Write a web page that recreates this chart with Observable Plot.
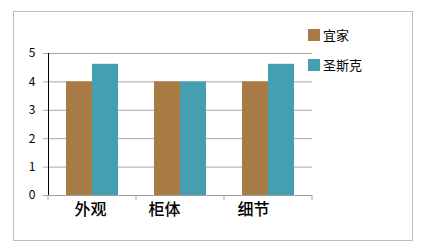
<!DOCTYPE html>
<html><head><meta charset="utf-8">
<script src="https://cdn.jsdelivr.net/npm/d3@7"></script>
<script src="https://cdn.jsdelivr.net/npm/@observablehq/plot@0.6"></script>
<style>
body{margin:0;background:#fff;font-family:"Noto Sans CJK SC",sans-serif;}
#wrap{position:relative;width:425px;height:252px;}
#border{position:absolute;left:13px;top:11px;width:400px;height:230px;box-sizing:border-box;border:1px solid #bcbcbc;}
#chart{position:absolute;left:0;top:0;}
.lg{position:absolute;left:308px;display:flex;align-items:center;font-size:13px;color:#000;line-height:14px;}
.lg span.sw{display:inline-block;width:12px;height:12px;margin-right:3px;}
</style></head>
<body><div id="wrap"><div id="border"></div><div id="chart"></div><div id="legend"></div></div>
<script>
const categories = ["外观", "柜体", "细节"];
const seriesNames = ["宜家", "圣斯克"];
const valuesYijia = [4, 4, 4];
const valuesShengsike = [4.62, 4, 4.62];
const colors = ["#a87b44", "#449fb0"];
const yTicks = [0, 1, 2, 3, 4, 5];
const labelShift = [-2, -16, -15];

const data = [];
categories.forEach((c, i) => {
  data.push({cat: c, series: seriesNames[0], value: valuesYijia[i]});
  data.push({cat: c, series: seriesNames[1], value: valuesShengsike[i]});
});

const chart = Plot.plot({
  width: 425, height: 252,
  marginLeft: 47, marginRight: 113, marginTop: 53, marginBottom: 57,
  style: {fontFamily: "'Noto Sans CJK SC', sans-serif", background: "transparent"},
  fx: {domain: categories, padding: 0, label: null, axis: "bottom", tickSize: 0, tickPadding: 8, fontSize: 16},
  x: {domain: seriesNames, axis: null, paddingInner: 0, paddingOuter: 0.657, align: 0.5},
  y: {domain: [0, 5], ticks: yTicks, tickFormat: d3.format("d"), grid: true, label: null, tickSize: 5, tickPadding: 8, line: true},
  color: {domain: seriesNames, range: colors},
  marks: [
    Plot.barY(data, {fx: "cat", x: "series", y: "value", fill: "series"}),
    Plot.ruleY([0], {stroke: "#a0a0a0"})
  ]
});
d3.select(chart).selectAll("[aria-label='y-grid'] line, [aria-label='y-grid'] path").attr("stroke", "#a6a6a6").attr("stroke-opacity", 1);
d3.select(chart).selectAll("[aria-label='y-axis tick'] path, [aria-label='y-axis line'] path, [aria-label='y-axis line'] line").attr("stroke", "#a6a6a6");
d3.select(chart).selectAll("[aria-label='y-axis tick label']").attr("font-size", 12);
d3.select(chart).selectAll("[aria-label='fx-axis tick label'] text").each(function(_, i) {
  d3.select(this).attr("font-size", 16).attr("font-weight", 500).attr("dx", labelShift[i] || 0);
});
const fx = chart.scale("fx");
const sc = Plot.scale({fx});
const bw = sc.bandwidth;
const bounds = categories.map(c => sc.apply(c)).concat([sc.apply(categories[categories.length-1]) + bw]);
const g = d3.select(chart).append("g").attr("stroke", "#a6a6a6");
bounds.forEach(b => g.append("line").attr("x1", b).attr("x2", b).attr("y1", 195).attr("y2", 200));
document.getElementById("chart").appendChild(chart);

const lg = document.getElementById("legend");
seriesNames.forEach((s, i) => {
  const d = document.createElement("div");
  d.className = "lg";
  d.style.top = (28 + i * 30) + "px";
  d.innerHTML = `<span class="sw" style="background:${colors[i]}"></span><span>${s}</span>`;
  lg.appendChild(d);
});
</script></body></html>
